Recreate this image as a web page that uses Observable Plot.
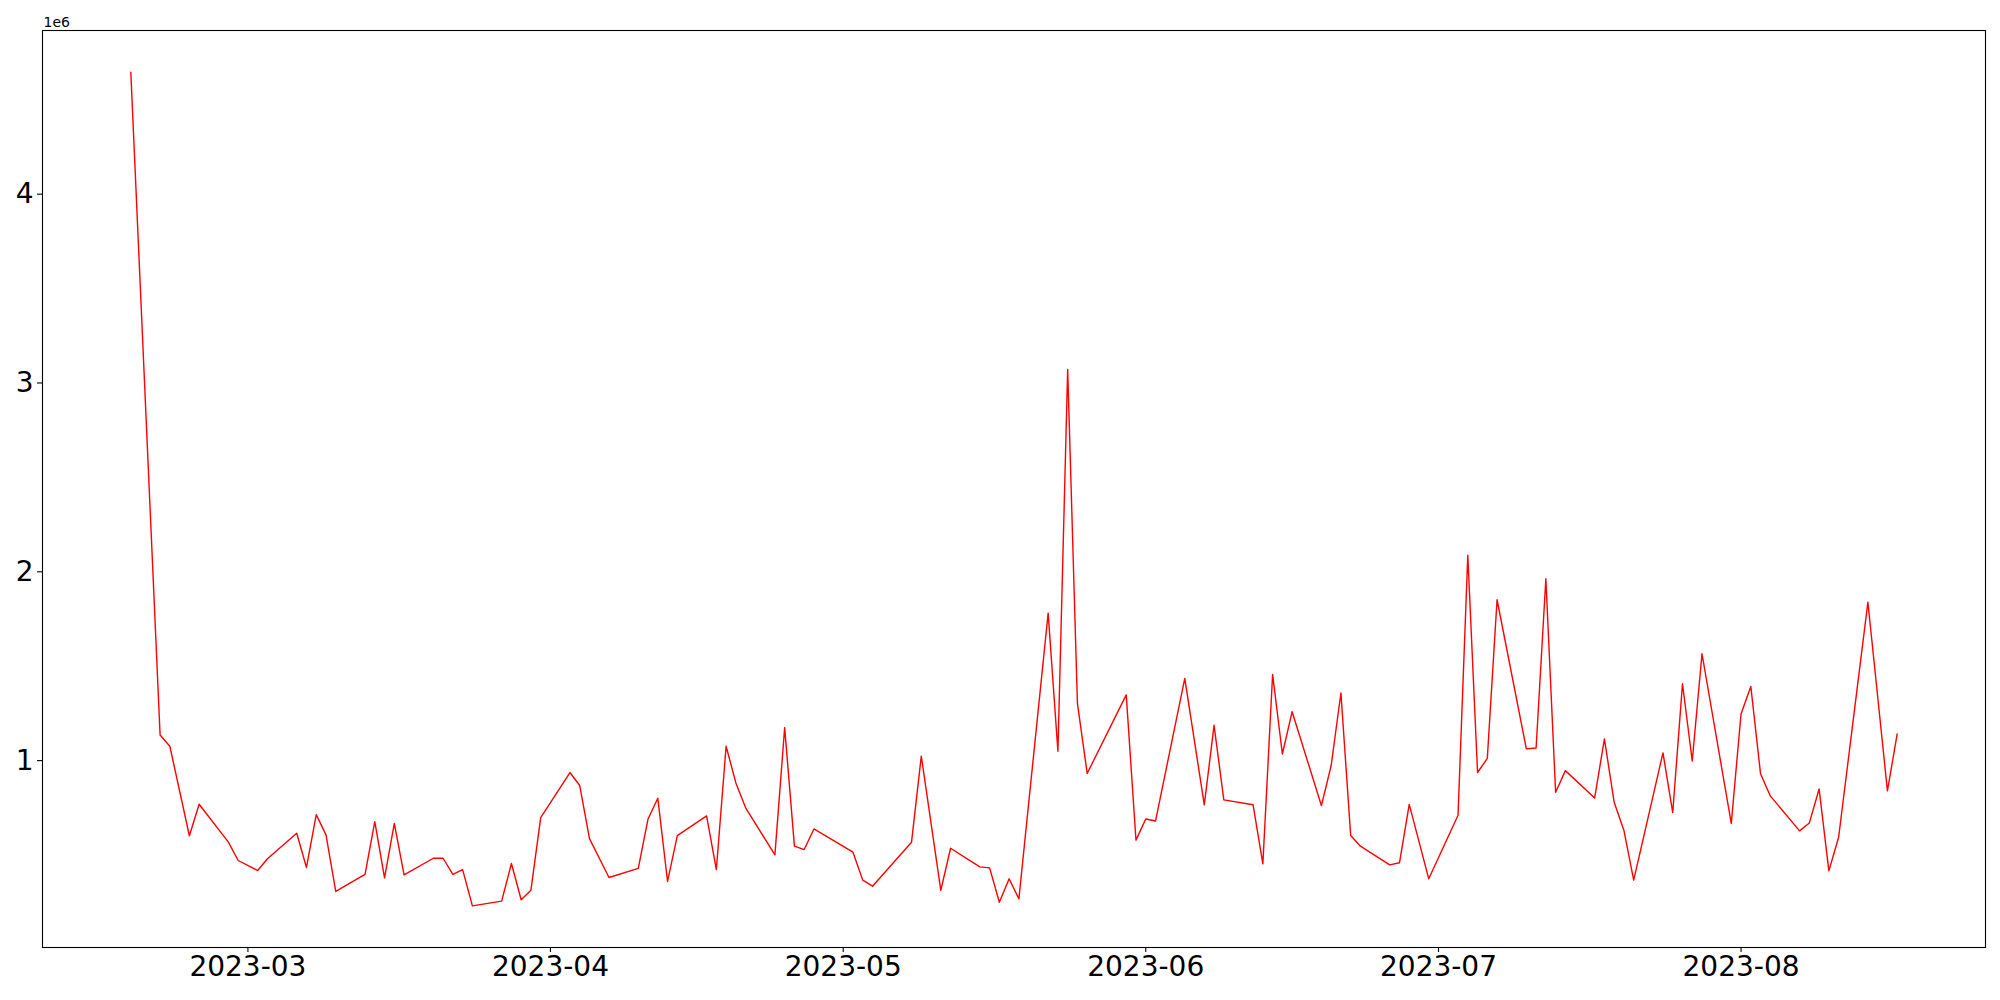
<!DOCTYPE html>
<html>
<head>
<meta charset="utf-8">
<script src="https://cdn.jsdelivr.net/npm/d3@7"></script>
<script src="https://cdn.jsdelivr.net/npm/@observablehq/plot@0.6"></script>
<style>
  html, body { margin: 0; padding: 0; background: #fff; }
  #chart { width: 2000px; height: 1000px; }
</style>
</head>
<body>
<div id="chart"></div>
<script>
const dates = [
  "2023-02-17","2023-02-20","2023-02-21","2023-02-23","2023-02-24","2023-02-27","2023-02-28",
  "2023-03-02","2023-03-03","2023-03-06","2023-03-07","2023-03-08","2023-03-09","2023-03-10",
  "2023-03-13","2023-03-14","2023-03-15","2023-03-16","2023-03-17","2023-03-20","2023-03-21",
  "2023-03-22","2023-03-23","2023-03-24","2023-03-27","2023-03-28","2023-03-29","2023-03-30",
  "2023-03-31","2023-04-03","2023-04-04","2023-04-05","2023-04-07","2023-04-10","2023-04-11",
  "2023-04-12","2023-04-13","2023-04-14","2023-04-17","2023-04-18","2023-04-19","2023-04-20",
  "2023-04-21","2023-04-24","2023-04-25","2023-04-26","2023-04-27","2023-04-28","2023-05-02",
  "2023-05-03","2023-05-04","2023-05-08","2023-05-09","2023-05-11","2023-05-12","2023-05-15",
  "2023-05-16","2023-05-17","2023-05-18","2023-05-19","2023-05-22","2023-05-23","2023-05-24",
  "2023-05-25","2023-05-26","2023-05-30","2023-05-31","2023-06-01","2023-06-02","2023-06-05",
  "2023-06-07","2023-06-08","2023-06-09","2023-06-12","2023-06-13","2023-06-14","2023-06-15",
  "2023-06-16","2023-06-19","2023-06-20","2023-06-21","2023-06-22","2023-06-23","2023-06-26",
  "2023-06-27","2023-06-28","2023-06-30","2023-07-03","2023-07-04","2023-07-05","2023-07-06",
  "2023-07-07","2023-07-10","2023-07-11","2023-07-12","2023-07-13","2023-07-14","2023-07-17",
  "2023-07-18","2023-07-19","2023-07-20","2023-07-21","2023-07-24","2023-07-25","2023-07-26",
  "2023-07-27","2023-07-28","2023-07-31","2023-08-01","2023-08-02","2023-08-03","2023-08-04",
  "2023-08-07","2023-08-08","2023-08-09","2023-08-10","2023-08-11","2023-08-14","2023-08-16",
  "2023-08-17"
];

const values = [
  4646000,1136000,1076000,602000,769000,568000,471000,
  418000,480000,615000,434000,714000,607000,307000,
  397000,677000,379000,667000,395000,483000,483000,
  397000,423000,231000,256000,455000,263000,314000,
  698000,937000,868000,587000,381000,429000,691000,
  801000,360000,603000,707000,423000,1076000,882000,
  750000,501000,1175000,547000,529000,638000,515000,
  367000,335000,568000,1024000,313000,536000,437000,
  432000,250000,374000,268000,1781000,1050000,3072000,
  1303000,932000,1348000,579000,691000,680000,1435000,
  766000,1187000,792000,766000,453000,1457000,1035000,
  1259000,762000,974000,1358000,603000,547000,448000,
  459000,768000,374000,711000,2088000,937000,1012000,
  1852000,1062000,1067000,1963000,832000,947000,802000,
  1115000,779000,630000,367000,1041000,725000,1407000,
  998000,1566000,667000,1247000,1393000,930000,813000,
  628000,670000,850000,416000,594000,1839000,840000,
  1141000
];

const xTicks = ["2023-03-01","2023-04-01","2023-05-01","2023-06-01","2023-07-01","2023-08-01"];
const yTicks = [1000000, 2000000, 3000000, 4000000];
const offsetLabel = "1e6";

const data = dates.map((d, i) => ({date: new Date(d + "T00:00:00Z"), value: values[i]}));

function pad(ext, f) {
  const [a, b] = ext;
  const span = b - a;
  return [a - span * f, b + span * f];
}
const xExt = d3.extent(data, d => +d.date);
const xDom = pad(xExt, 0.05).map(t => new Date(t));
const yDom = pad(d3.extent(data, d => d.value), 0.05);

const chart = Plot.plot({
  width: 2000,
  height: 1000,
  marginLeft: 42,
  marginRight: 15,
  marginTop: 30,
  marginBottom: 53,
  style: {fontFamily: "DejaVu Sans", background: "white", color: "black", overflow: "visible"},
  x: {type: "utc", domain: xDom},
  y: {domain: yDom},
  marks: [
    Plot.line(data, {x: "date", y: "value", stroke: "red", strokeWidth: 1.4}),
    Plot.frame({stroke: "black", strokeWidth: 1.1}),
    Plot.axisX({
      ticks: xTicks.map(d => new Date(d + "T00:00:00Z")),
      tickFormat: d3.utcFormat("%Y-%m"),
      tickSize: 5, tickPadding: 4, fontSize: 28, stroke: "black", strokeWidth: 1.1,
      label: null
    }),
    Plot.axisY({
      ticks: yTicks,
      tickFormat: d => String(d / 1e6),
      tickSize: 5, tickPadding: 4, fontSize: 28, stroke: "black", strokeWidth: 1.1,
      label: null
    }),
    Plot.text([offsetLabel], {
      text: d => d, frameAnchor: "top-left", textAnchor: "start", lineAnchor: "bottom",
      dx: 1, dy: -4, fontSize: 14, fill: "black"
    })
  ]
});
document.getElementById("chart").appendChild(chart);
</script>
</body>
</html>
